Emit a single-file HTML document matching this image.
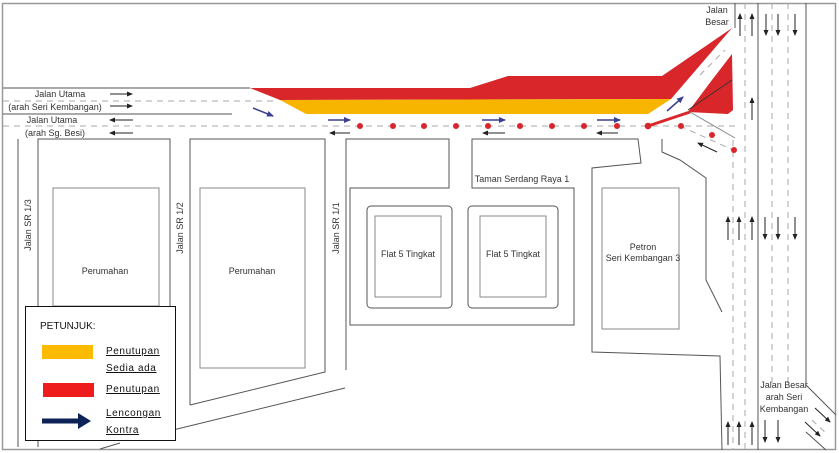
<!DOCTYPE html>
<html><head><meta charset="utf-8"><style>
html,body{margin:0;padding:0;background:#fff;}
svg{display:block;font-family:"Liberation Sans",sans-serif;}
</style></head><body>
<svg width="839" height="453" viewBox="0 0 839 453" xmlns="http://www.w3.org/2000/svg">
<defs>
<marker id="ab" markerWidth="6" markerHeight="6" refX="5" refY="3" orient="auto" markerUnits="userSpaceOnUse"><path d="M0,0.5 L6,3 L0,5.5 z" fill="#222"/></marker>
<marker id="au" markerWidth="7" markerHeight="7" refX="6" refY="3.5" orient="auto" markerUnits="userSpaceOnUse"><path d="M0,0.5 L7,3.5 L0,6.5 z" fill="#3a3f8f"/></marker>
</defs>
<rect x="2.5" y="3.5" width="833" height="446" fill="#fff" stroke="#999" stroke-width="1.5"/>
<g fill="none" stroke="#555" stroke-width="1">
<!-- main road -->
<line x1="3" y1="88" x2="250" y2="88"/>
<line x1="3" y1="114" x2="232" y2="114"/>
</g>
<g fill="none" stroke="#aaa" stroke-width="1" stroke-dasharray="6,5">
<line x1="3" y1="101" x2="275" y2="101"/>
<line x1="3" y1="126" x2="735" y2="126"/>
<line x1="680" y1="126" x2="733" y2="150"/>
<line x1="745" y1="3" x2="745" y2="450"/>
<line x1="772" y1="3" x2="772" y2="385"/>
<line x1="788" y1="3" x2="788" y2="385"/>
<line x1="733" y1="140" x2="733" y2="450"/>
<line x1="700" y1="75" x2="725" y2="50"/>
<line x1="812" y1="420" x2="828" y2="435"/>
</g>
<!-- closures -->
<polygon points="250,88 470,88 508,76 662,76 732,28 671,99 280,100" fill="#d9262b"/>
<polygon points="280,100 671,99 648,114 306,114" fill="#f7b500"/>
<polygon points="732,54 733,110 728,114 688,112 712,80" fill="#d9262b"/>
<line x1="688" y1="110" x2="732" y2="80" stroke="#333" stroke-width="0.8"/>
<line x1="648" y1="126" x2="690" y2="112" stroke="#d9262b" stroke-width="3"/>
<g fill="#d9262b">
<circle cx="360" cy="126" r="3"/><circle cx="393" cy="126" r="3"/><circle cx="424" cy="126" r="3"/><circle cx="456" cy="126" r="3"/><circle cx="488" cy="126" r="3"/><circle cx="520" cy="126" r="3"/><circle cx="552" cy="126" r="3"/><circle cx="584" cy="126" r="3"/><circle cx="617" cy="126" r="3"/><circle cx="648" cy="126" r="3.3"/><circle cx="681" cy="126" r="3"/><circle cx="712" cy="135" r="3"/><circle cx="734" cy="150" r="3"/>
</g>
<g fill="none" stroke="#555" stroke-width="1">
<!-- Jalan Besar -->
<line x1="735" y1="3" x2="735" y2="28"/>
<line x1="758" y1="3" x2="758" y2="450"/>
<line x1="806" y1="3" x2="806" y2="385"/>
<line x1="806" y1="385" x2="836" y2="415"/>
<line x1="806" y1="432" x2="826" y2="450"/>
<line x1="690" y1="112" x2="735" y2="138" stroke="#888"/>
<!-- island -->
<polyline points="662,139 662,152 680,160 706,178 706,280 722,312"/>
<!-- left blocks -->
<line x1="18" y1="139" x2="18" y2="447"/>
<polyline points="38,447 38,139 170,139 170,310"/>
<rect x="53" y="188" width="106" height="118" stroke="#888"/>
<polyline points="190,405 190,139 325,139 325,372 190,405"/>
<rect x="200" y="188" width="105" height="180" stroke="#888"/>
<polyline points="346,370 346,139 449,139 449,188 350,188 350,325 574,325 574,188 472,188 472,139 638,139 641,163 592,168 592,352 720,356 722,450"/>
<line x1="345" y1="388" x2="173" y2="430"/>
<line x1="100" y1="449" x2="120" y2="443"/>
<rect x="367" y="206" width="85" height="102" rx="4"/>
<rect x="375" y="216" width="66" height="81" stroke="#888"/>
<rect x="468" y="206" width="90" height="102" rx="4"/>
<rect x="480" y="216" width="66" height="81" stroke="#888"/>
<rect x="602" y="188" width="77" height="141" stroke="#888"/>
</g>
<!-- black arrows -->
<g stroke="#222" stroke-width="1" marker-end="url(#ab)">
<line x1="110" y1="94" x2="132" y2="94"/><line x1="110" y1="106" x2="132" y2="106"/>
<line x1="133" y1="120" x2="110" y2="120"/><line x1="133" y1="133" x2="110" y2="133"/>
<line x1="350" y1="133" x2="330" y2="133"/><line x1="505" y1="133" x2="483" y2="133"/><line x1="618" y1="133" x2="597" y2="133"/>
<line x1="717" y1="152" x2="698" y2="143"/>
<line x1="740" y1="36" x2="740" y2="14"/><line x1="752" y1="36" x2="752" y2="14"/>
<line x1="766" y1="14" x2="766" y2="35"/><line x1="778" y1="14" x2="778" y2="35"/><line x1="795" y1="14" x2="795" y2="35"/>
<line x1="752" y1="120" x2="752" y2="98"/>
<line x1="728" y1="240" x2="728" y2="217"/><line x1="739" y1="240" x2="739" y2="217"/><line x1="752" y1="240" x2="752" y2="217"/>
<line x1="765" y1="217" x2="765" y2="239"/><line x1="778" y1="217" x2="778" y2="239"/><line x1="795" y1="217" x2="795" y2="239"/>
<line x1="728" y1="445" x2="728" y2="422"/><line x1="739" y1="445" x2="739" y2="422"/><line x1="752" y1="445" x2="752" y2="422"/>
<line x1="765" y1="420" x2="765" y2="442"/><line x1="778" y1="420" x2="778" y2="442"/>
<line x1="815" y1="408" x2="830" y2="422"/><line x1="805" y1="422" x2="820" y2="436"/>
</g>
<!-- blue arrows -->
<g stroke="#3a3f8f" stroke-width="1.5" marker-end="url(#au)">
<line x1="253" y1="108" x2="273" y2="116"/>
<line x1="328" y1="120" x2="350" y2="120"/><line x1="482" y1="120" x2="505" y2="120"/><line x1="597" y1="120" x2="620" y2="120"/>
<line x1="667" y1="111" x2="683" y2="97"/>
</g>
<g font-size="9" fill="#333" text-anchor="middle">
<text x="60" y="97">Jalan Utama</text>
<text x="55" y="110">(arah Seri Kembangan)</text>
<text x="52" y="123">Jalan Utama</text>
<text x="55" y="136">(arah Sg. Besi)</text>
<text x="105" y="274">Perumahan</text>
<text x="252" y="274">Perumahan</text>
<text x="408" y="257">Flat 5 Tingkat</text>
<text x="513" y="257">Flat 5 Tingkat</text>
<text x="522" y="182">Taman Serdang Raya 1</text>
<text x="643" y="250">Petron</text>
<text x="643" y="261">Seri Kembangan 3</text>
<text x="717" y="13">Jalan</text>
<text x="717" y="25">Besar</text>
<text x="784" y="388">Jalan Besar</text>
<text x="784" y="400">arah Seri</text>
<text x="784" y="412">Kembangan</text>
<text transform="translate(31,225) rotate(-90)">Jalan SR 1/3</text>
<text transform="translate(183,228) rotate(-90)">Jalan SR 1/2</text>
<text transform="translate(339,228) rotate(-90)">Jalan SR 1/1</text>
</g>
<!-- legend -->
<rect x="25.5" y="306.5" width="150" height="134" fill="#fff" stroke="#111" stroke-width="1"/>
<g font-size="10" fill="#111">
<text x="40" y="329">PETUNJUK:</text>
<rect x="42" y="345" width="51" height="14" fill="#fcbb00"/>
<rect x="43" y="383" width="51" height="14" fill="#ee1c1c"/>
<line x1="42" y1="421" x2="80" y2="421" stroke="#0d2257" stroke-width="5"/>
<polygon points="78,413 91,421 78,429" fill="#0d2257"/>
<g letter-spacing="0.6" text-decoration="underline">
<text x="106" y="354">Penutupan</text>
<text x="106" y="371">Sedia ada</text>
<text x="106" y="392">Penutupan</text>
<text x="106" y="416">Lencongan</text>
<text x="106" y="433">Kontra</text>
</g>
</g>
</svg>
</body></html>
